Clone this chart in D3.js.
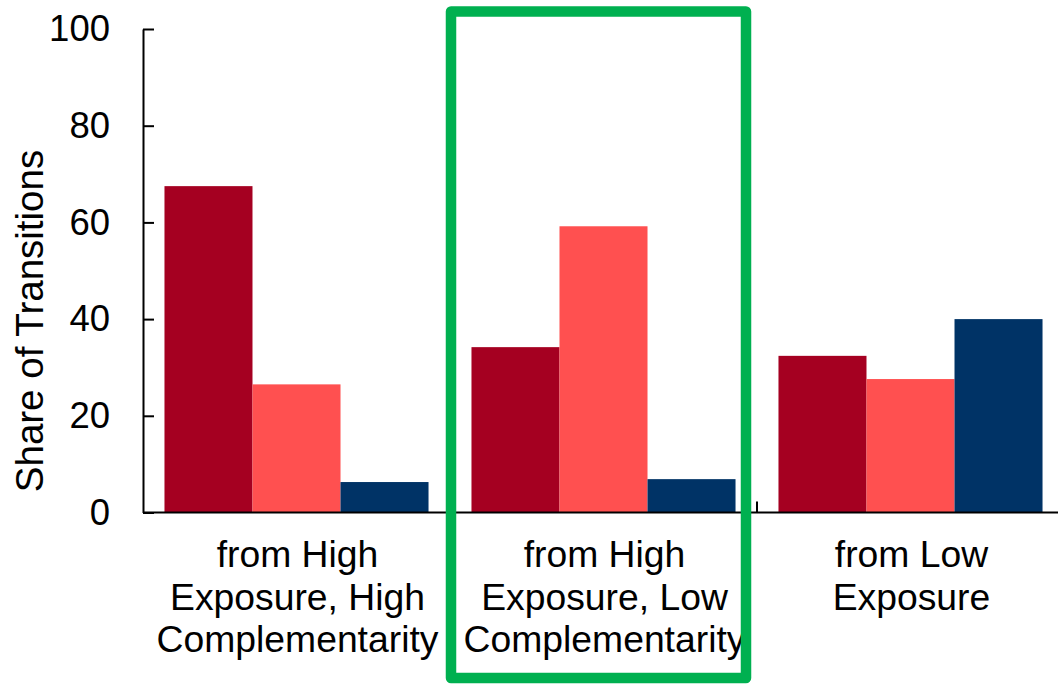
<!DOCTYPE html>
<html>
<head>
<meta charset="utf-8">
<script src="https://cdn.jsdelivr.net/npm/d3@7"></script>
<style>
  html, body { margin: 0; padding: 0; background: #ffffff; }
  svg { display: block; }
  text { font-family: "Liberation Sans", Arial, sans-serif; fill: #000; }
</style>
</head>
<body>
<svg id="chart" width="1058" height="685"></svg>
<script>
// Origin categories (each label split into lines)
const categories = [
  ["from High", "Exposure, High", "Complementarity"],
  ["from High", "Exposure, Low", "Complementarity"],
  ["from Low", "Exposure"]
];
const categoryKeys = ["HEHC", "HELC", "LE"];

// Destination series
const seriesNames = ["to High Exposure, High Complementarity", "to High Exposure, Low Complementarity", "to Low Exposure"];
const seriesColors = ["#A50021", "#FF5050", "#003366"];

// Share of transitions (%) per origin, one array per destination series
const toHEHC = [67.5, 34.2, 32.4];
const toHELC = [26.5, 59.2, 27.6];
const toLE   = [6.3, 6.9, 40.0];
const seriesValues = [toHEHC, toHELC, toLE];

const yTicks = [0, 20, 40, 60, 80, 100];
const highlighted = "HELC";

const svg = d3.select("#chart");

const x = d3.scaleBand().domain(categoryKeys).range([143, 1064]).paddingInner(0).paddingOuter(0);
const xInner = d3.scaleBand().domain(d3.range(seriesNames.length)).range([0, x.bandwidth()])
  .paddingInner(0).paddingOuter(0.244);
const y = d3.scaleLinear().domain([0, 100]).range([512.5, 29]);

// Bars
const groups = svg.append("g").selectAll("g")
  .data(categoryKeys)
  .join("g")
  .attr("transform", d => `translate(${x(d)},0)`);

groups.selectAll("rect")
  .data((d, i) => seriesValues.map((vals, s) => ({ s, v: vals[i] })))
  .join("rect")
  .attr("x", d => xInner(d.s))
  .attr("width", xInner.bandwidth())
  .attr("y", d => y(d.v))
  .attr("height", d => y(0) - y(d.v))
  .attr("fill", d => seriesColors[d.s]);

// Y axis with inward ticks
const yAxis = d3.axisLeft(y).tickValues(yTicks).tickSizeInner(-11).tickSizeOuter(0).tickPadding(33);
const yg = svg.append("g").attr("transform", "translate(143,0)").call(yAxis);
yg.select(".domain").attr("stroke", "#000").attr("stroke-width", 2);
yg.selectAll(".tick line").attr("stroke", "#000").attr("stroke-width", 2);
yg.selectAll(".tick text").attr("font-size", 36.5).attr("font-family", "Liberation Sans, Arial, sans-serif").attr("fill", "#000");

// X axis baseline and category divider ticks
svg.append("line")
  .attr("x1", x.range()[0]).attr("x2", x.range()[1])
  .attr("y1", y(0)).attr("y2", y(0))
  .attr("stroke", "#000").attr("stroke-width", 2);

svg.append("g").selectAll("line")
  .data(categoryKeys.slice(0, -1))
  .join("line")
  .attr("x1", d => x(d) + x.bandwidth()).attr("x2", d => x(d) + x.bandwidth())
  .attr("y1", y(0)).attr("y2", y(0) - 11)
  .attr("stroke", "#000").attr("stroke-width", 2);

// Category labels
const labels = svg.append("g").selectAll("text")
  .data(categoryKeys)
  .join("text")
  .attr("text-anchor", "middle")
  .attr("font-size", 37.3)
  .attr("x", d => x(d) + x.bandwidth() / 2 + 1)
  .attr("y", 567);
labels.selectAll("tspan")
  .data((d, i) => categories[i])
  .join("tspan")
  .attr("x", function () { return this.parentNode.getAttribute("x"); })
  .attr("dy", (d, j) => j === 0 ? 0 : 42.5)
  .text(d => d);

// Y axis title
svg.append("text")
  .attr("transform", "translate(43,321) rotate(-90)")
  .attr("text-anchor", "middle")
  .attr("font-size", 38.5)
  .text("Share of Transitions");

// Highlight frame round the selected origin
svg.append("rect")
  .attr("x", x(highlighted) + 1)
  .attr("y", 11.5)
  .attr("width", x.bandwidth() - 12)
  .attr("height", 666.5)
  .attr("fill", "none")
  .attr("stroke", "#00B050")
  .attr("stroke-width", 10.5)
  .attr("stroke-linejoin", "round");
</script>
</body>
</html>
